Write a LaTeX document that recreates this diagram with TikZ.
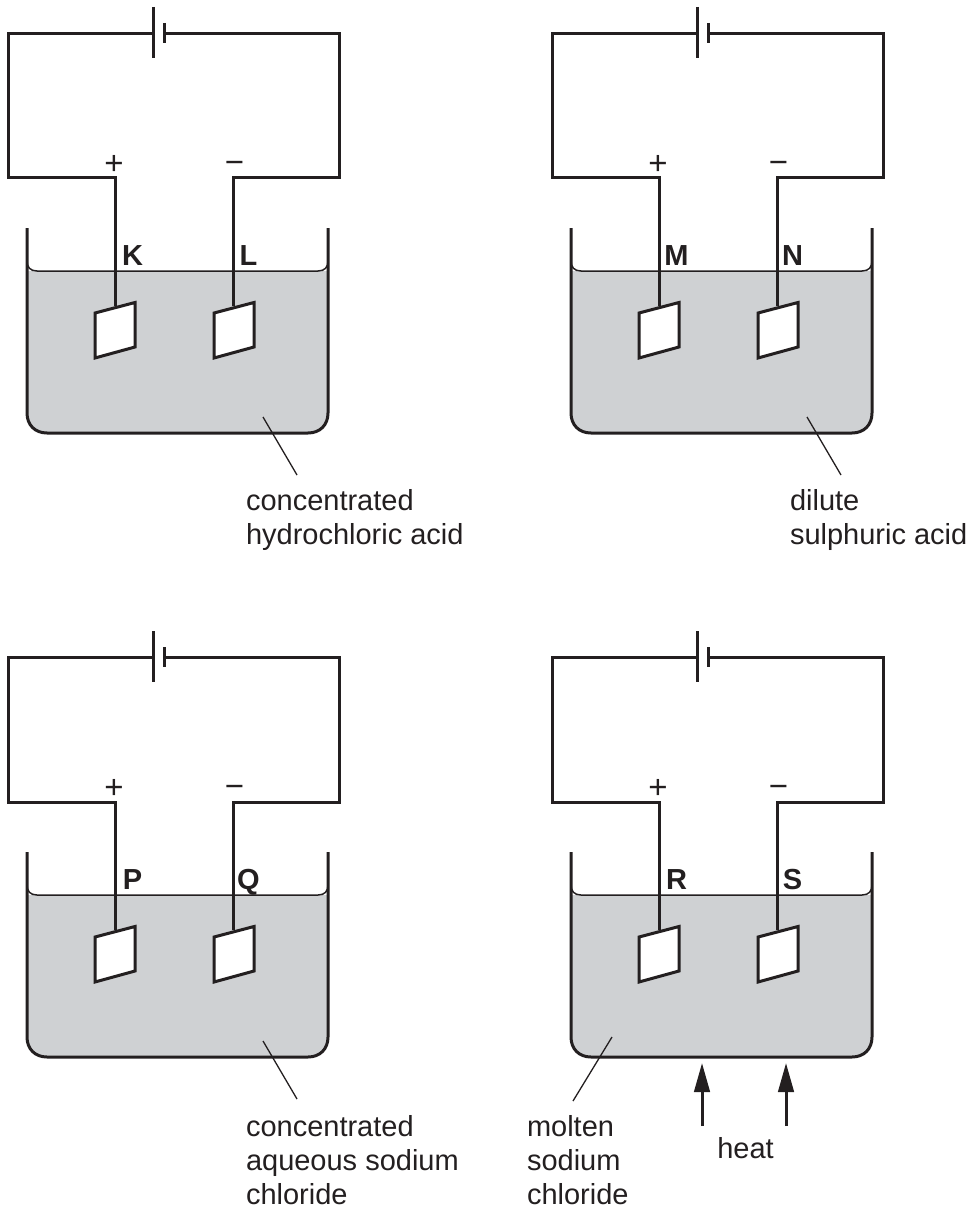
\documentclass[tikz,border=0pt]{standalone}
\usepackage{fontspec}
\setmainfont{Liberation Sans}
\usetikzlibrary{arrows.meta}
\definecolor{ink}{HTML}{231F20}
\definecolor{liquid}{HTML}{CFD1D3}
\tikzset{
  x=1pt,y=-1pt,
  wire/.style={draw=ink,line width=3pt,line cap=butt,line join=miter},
  thin line/.style={draw=ink,line width=1.5pt},
  plate/.style={draw=ink,line width=3pt,fill=white,line join=miter},
  glass/.style={draw=ink,line width=3pt},
  leader/.style={draw=ink,line width=1.3pt},
  lab/.style={inner sep=0pt,outer sep=0pt,text=ink,font=\fontsize{29}{34.3}\selectfont,align=left},
  elec/.style={inner sep=0pt,outer sep=0pt,text=ink,font=\bfseries\fontsize{29}{29}\selectfont,anchor=base},
  sign/.style={inner sep=0pt,outer sep=0pt,text=ink,font=\fontsize{33}{33}\selectfont},
  heatarrow/.style={draw=ink,line width=3pt,-{Triangle[length=29pt,width=15.5pt]}},
}
\newcommand{\cellpanel}[5]{%
 \begin{scope}[shift={(#1,#2)},name prefix=#3-]
  % liquid and beaker
  \fill[liquid] (27,271) -- (328,271) -- (328,413) .. controls (328,425) and (320,433) .. (308,433) -- (47,433) .. controls (35,433) and (27,425) .. (27,413) -- cycle;
  \path[thin line] (27,261) .. controls (27,267) and (30,271) .. (37,271) -- (318,271) .. controls (325,271) and (328,267) .. (328,261);
  \path[glass] (27,228) -- (27,413) .. controls (27,425) and (35,433) .. (47,433) -- (308,433) .. controls (320,433) and (328,425) .. (328,413) -- (328,228);
  % circuit
  \coordinate (bl) at (153,33.5);
  \coordinate (br) at (164,33.5);
  \coordinate (tl) at (8.5,33.5);
  \coordinate (tr) at (339,33.5);
  \coordinate (ml) at (8.5,178);
  \coordinate (mr) at (339,178);
  \coordinate (al) at (115,178);
  \coordinate (cl) at (233,178);
  \coordinate (el) at (115,306);
  \coordinate (er) at (233,306);
  \draw[wire] (bl) -- (tl) -- (ml) -- (al) -- (el);
  \draw[wire] (br) -- (tr) -- (mr) -- (cl) -- (er);
  \draw[wire] (153,7) -- (153,58);
  \draw[wire] (164,23) -- (164,43);
  % electrodes
  \path[plate] (95,313) -- (135,302.5) -- (135,347) -- (95,358) -- cycle;
  \path[plate] (214,313) -- (254,302.5) -- (254,347) -- (214,358) -- cycle;
  % labels
  \node[sign] (plus) at (114,165) {+};
  \node[sign] (minus) at (234.5,167) {−};
  \node[elec] (a) at (132.5,265.5) {#4};
  \node[elec] (c) at (248.5,265.5) {#5};
 \end{scope}}
\begin{document}
\begin{tikzpicture}
\useasboundingbox (0,0) rectangle (974,1209);
\cellpanel{0}{0}{p1}{K}{L}
\cellpanel{544}{0}{p2}{M}{N}
\cellpanel{0}{624}{p3}{P}{Q}
\cellpanel{544}{624}{p4}{R}{S}
% captions
\node[lab,anchor=west] (t1) at (246,520) {concentrated\\hydrochloric acid};
\node[lab,anchor=west] (t2) at (790,520) {dilute\\sulphuric acid};
\node[lab,anchor=west] (t3) at (246,1160) {concentrated\\aqueous sodium\\chloride};
\node[lab,anchor=west] (t4) at (527,1160) {molten\\sodium\\chloride};
\node[lab,anchor=base] (t5) at (745.5,1158) {heat};
% leaders
\coordinate (l1a) at (263,417); \coordinate (l1b) at (297,475);
\coordinate (l2a) at (807,417); \coordinate (l2b) at (841,475);
\coordinate (l3a) at (263,1041); \coordinate (l3b) at (297,1099);
\coordinate (l4a) at (612,1037); \coordinate (l4b) at (573,1101);
\draw[leader] (l1a) -- (l1b);
\draw[leader] (l2a) -- (l2b);
\draw[leader] (l3a) -- (l3b);
\draw[leader] (l4a) -- (l4b);
% heat arrows
\coordinate (h1a) at (702,1126); \coordinate (h1b) at (702,1063);
\coordinate (h2a) at (786,1126); \coordinate (h2b) at (786,1063);
\draw[heatarrow] (h1a) -- (h1b);
\draw[heatarrow] (h2a) -- (h2b);
\end{tikzpicture}
\end{document}
